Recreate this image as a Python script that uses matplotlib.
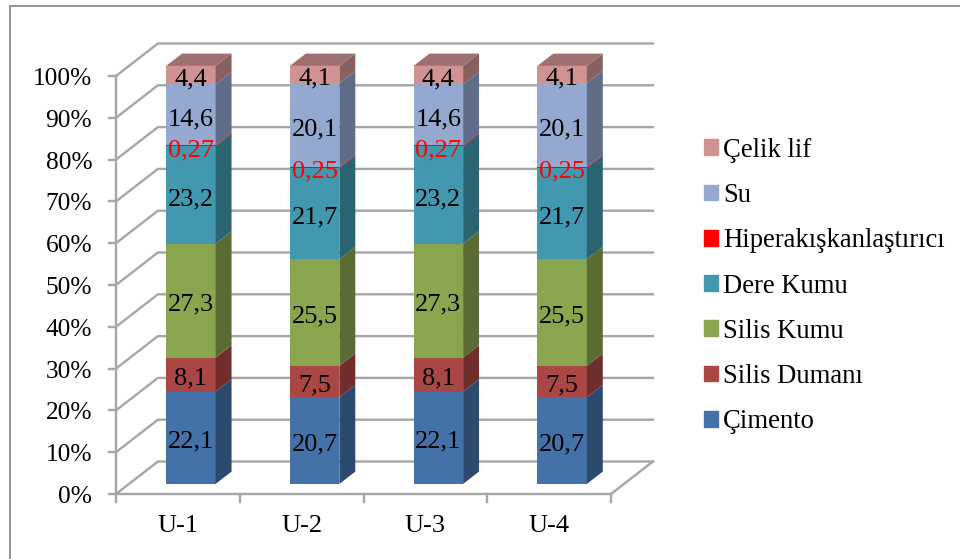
import numpy as np
import matplotlib
matplotlib.use('Agg')
import matplotlib.pyplot as plt
from matplotlib.lines import Line2D
from matplotlib.patches import Rectangle

categories = ['U-1', 'U-2', 'U-3', 'U-4']
cimento = [22.1, 20.7, 22.1, 20.7]
silis_dumani = [8.1, 7.5, 8.1, 7.5]
silis_kumu = [27.3, 25.5, 27.3, 25.5]
dere_kumu = [23.2, 21.7, 23.2, 21.7]
hiper = [0.27, 0.25, 0.27, 0.25]
su = [14.6, 20.1, 14.6, 20.1]
celik_lif = [4.4, 4.1, 4.4, 4.1]
pct_ticks = [0, 10, 20, 30, 40, 50, 60, 70, 80, 90, 100]

series = [cimento, silis_dumani, silis_kumu, dere_kumu, hiper, su, celik_lif]
names = ['Çimento', 'Silis Dumanı', 'Silis Kumu', 'Dere Kumu', 'Hiperakışkanlaştırıcı', 'Su', 'Çelik lif']
colors = ['#4472a8', '#aa4643', '#89a54e', '#4198af', '#ff0000', '#94a8d0', '#d09392']
side_colors = ['#2c4a6e', '#6f2e2c', '#5a6c33', '#2a6372', '#a60000', '#5f6d88', '#876060']
top_colors = ['#38608f', '#8f3b39', '#728a41', '#378093', '#d40000', '#7d8db0', '#9e7070']

plt.rcParams['font.family'] = ['Liberation Serif', 'DejaVu Serif']

W, H = 960, 559
grid_c = '#a6a6a6'
grid_lw = 1.7

# oblique projection of the Excel 3D look: depth 0 = front, depth 1 = back wall
depth_x = 42 / 124.
depth_y = 32.5 / 418 * 100
bar_d0, bar_d1 = 0.31, 0.69
bar_w = 0.4

fig = plt.figure(figsize=(W / 100, H / 100), dpi=100)
ax = fig.add_axes([116 / W, 1 - 494 / H, 495 / W, 418 / H])
ax.set_xlim(0, 4)
ax.set_ylim(0, 100)
ax.set_axis_off()

# outer frame, only left and top are inside the picture
fig.add_artist(Line2D([9.5 / W, 9.5 / W, 1], [0, 1 - 6 / H, 1 - 6 / H], color='#8c8c8c', lw=1.3,
                      solid_joinstyle='miter'))

# walls and grid
for p in pct_ticks:
    ax.plot([0, depth_x, 4 + depth_x], [p, p + depth_y, p + depth_y], color=grid_c, lw=grid_lw,
            clip_on=False, zorder=1, solid_joinstyle='miter')
    ax.plot([-0.056, 0], [p, p], color=grid_c, lw=grid_lw, clip_on=False, zorder=1)
    ax.text(-0.192, p - 0.7, str(p) + '%', ha='right', va='center', fontsize=18.3, clip_on=False)
ax.plot([0, 0], [0, 100], color=grid_c, lw=grid_lw, clip_on=False, zorder=1)
ax.plot([0, 4], [0, 0], color=grid_c, lw=grid_lw, clip_on=False, zorder=1)
ax.plot([4, 4 + depth_x], [0, depth_y], color=grid_c, lw=grid_lw, clip_on=False, zorder=1)
for i in range(5):
    ax.plot([i, i], [0, -1.9], color=grid_c, lw=grid_lw, clip_on=False, zorder=1)

# stacked bars
totals = np.sum(series, axis=0)
for i, cat in enumerate(categories):
    left = i + 0.5 - bar_w / 2 + bar_d0 * depth_x
    right = left + bar_w
    shift_x = (bar_d1 - bar_d0) * depth_x
    shift_y = (bar_d1 - bar_d0) * depth_y
    base = bar_d0 * depth_y
    b = 0.
    for j, s in enumerate(series):
        h = 100. * s[i] / totals[i]
        ax.bar(left, h, width=bar_w, bottom=base + b, align='edge', color=colors[j], zorder=3, clip_on=False)
        ax.fill([right, right + shift_x, right + shift_x, right],
                [base + b, base + b + shift_y, base + b + h + shift_y, base + b + h],
                color=side_colors[j], lw=0, zorder=3, clip_on=False)
        # value label in the middle of the front face
        lab = str(s[i]).replace('.', ',')
        lab_c = 'red' if j == 4 else 'black'
        ax.text(left + bar_w / 2, base + b + h / 2 - 1.0, lab, ha='center', va='center', color=lab_c,
                fontsize=19, zorder=5, clip_on=False)
        b += h
    ax.fill([left, left + shift_x, right + shift_x, right],
            [base + b, base + b + shift_y, base + b + shift_y, base + b],
            color=top_colors[-1], lw=0, zorder=3, clip_on=False)
    ax.text(i + 0.5, -7.6, cat, ha='center', va='center', fontsize=19, clip_on=False)

# legend, top entry is the last series
handles = [Rectangle((0, 0), 1, 1, color=colors[j]) for j in range(6, -1, -1)]
fig.legend(handles, names[::-1], loc='center left', bbox_to_anchor=(704 / W, 1 - 286 / H), frameon=False,
           fontsize=19.2, handlelength=0.53, handleheight=0.53, handletextpad=0.19, labelspacing=0.76,
           borderaxespad=0, borderpad=0)

fig.savefig('out.png', dpi=100)
